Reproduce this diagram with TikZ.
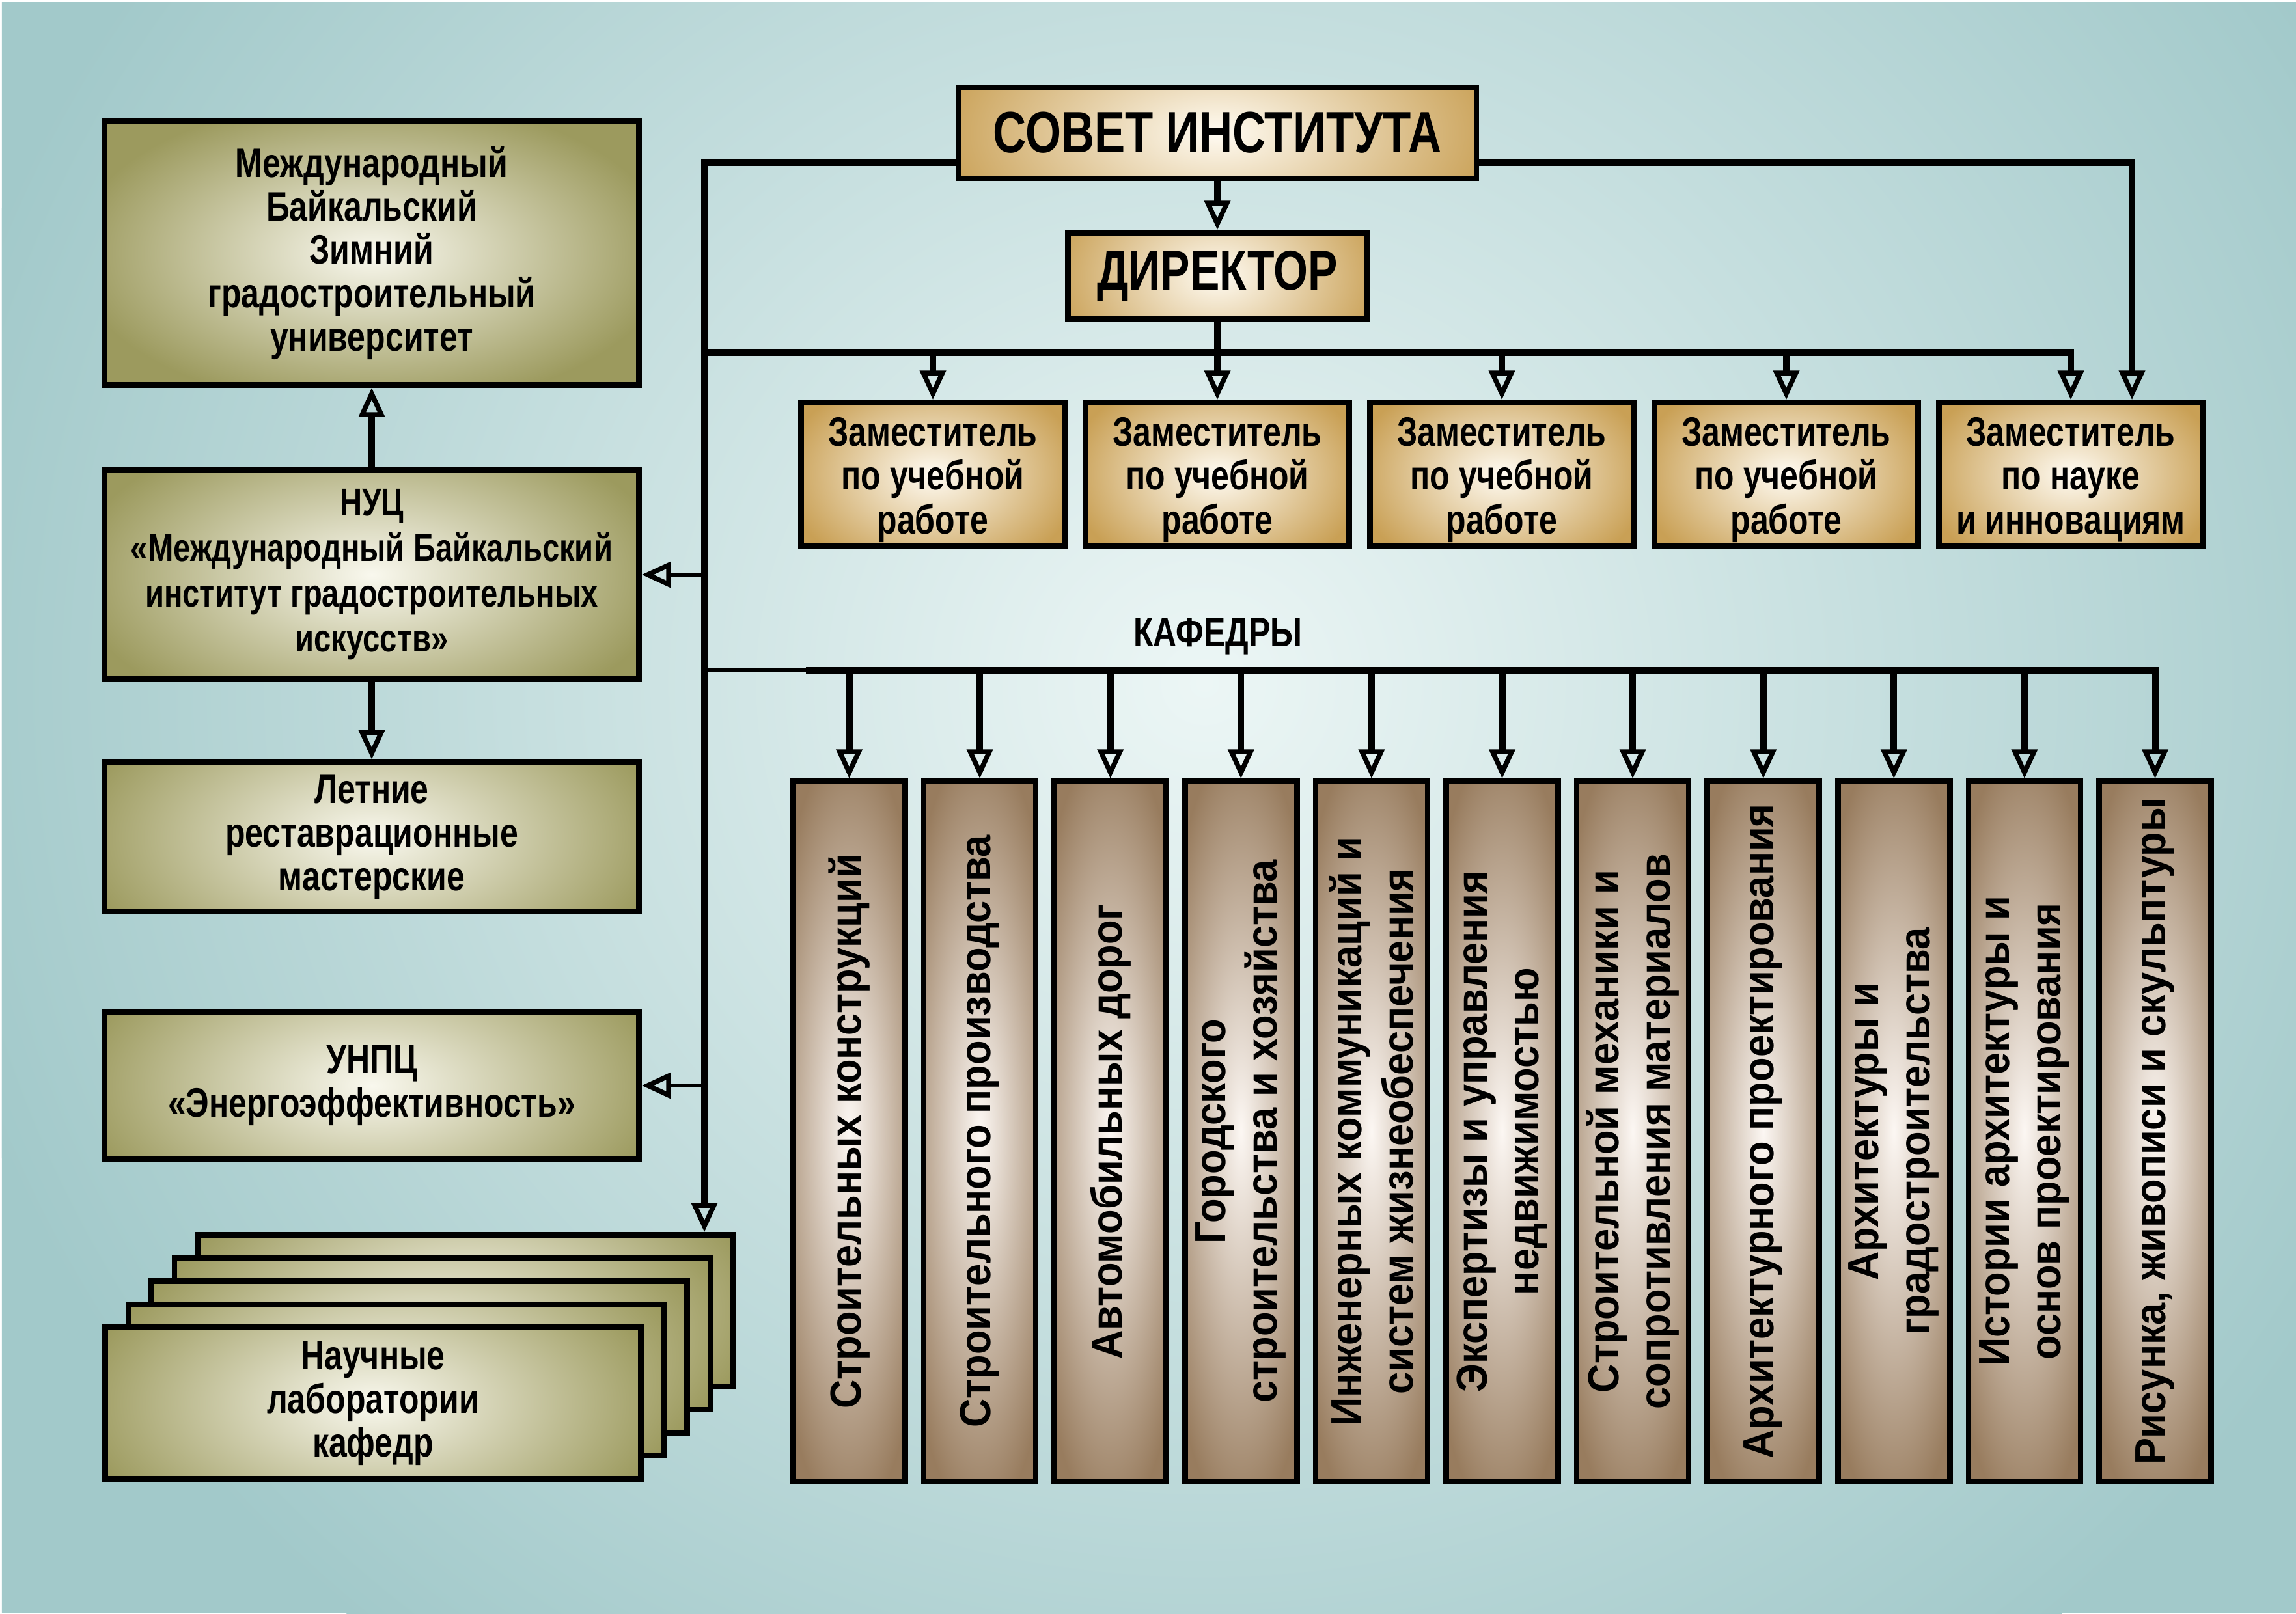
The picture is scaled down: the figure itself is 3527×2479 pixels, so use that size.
\documentclass[tikz,border=0pt]{standalone}
\usepackage{fontspec}
\setmainfont{Liberation Sans}
\newfontfamily\narrowfont{Liberation Sans}[FakeStretch=0.79]
\newfontfamily\deptfont{Liberation Sans}[FakeStretch=0.92]
\usetikzlibrary{arrows.meta}

\definecolor{bgout}{RGB}{162,201,202}
\definecolor{bgin}{RGB}{236,246,245}
\definecolor{goldout}{RGB}{201,160,85}
\definecolor{goldin}{RGB}{255,251,242}
\definecolor{oliveout}{RGB}{156,154,94}
\definecolor{olivein}{RGB}{249,248,238}
\definecolor{brownout}{RGB}{152,124,94}
\definecolor{brownin}{RGB}{252,247,243}

\tikzset{
  box/.style={draw, line width=0.85mm, inner sep=0pt, align=center},
  glow/.style n args={4}{fill=#1, path picture={\shade[inner color=#2, outer color=#1]
      (path picture bounding box.center) ellipse (#3 and #4);}},
  goldbox/.style 2 args={box, glow={goldout}{goldin}{#1}{#2},
      font=\narrowfont\bfseries\fontsize{18}{19.2}\selectfont},
  olivebox/.style={box, glow={oliveout}{olivein}{46mm}{24mm},
      minimum width=82.1mm, font=\narrowfont\bfseries\fontsize{18}{19}\selectfont},
  deptbox/.style={box, rotate=90, glow={brownout}{brownin}{60mm}{13mm},
      minimum width=107.6mm, minimum height=17.2mm,
      font=\deptfont\bfseries\fontsize{19}{22.5}\selectfont},
  bus/.style={line width=1mm},
  branch/.style={line width=0.55mm},
  arr/.style={-{Triangle[open, length=4.5mm, width=3.9mm, line width=0.75mm]}}
}

\begin{document}
\begin{tikzpicture}[x=0.1mm, y=-0.1mm]
    \useasboundingbox (0,0) rectangle (3527,2479);
    \fill[white] (0,0) rectangle (3527,2479);
    \begin{scope}
        \clip (3,3) rectangle (3527,2479);
        \fill[bgout] (0,0) rectangle (3527,2479);
        \shade[inner color=bgin, outer color=bgout] (1850,1050) ellipse (200mm and 190mm);
    \end{scope}

    \node[goldbox={44mm}{22mm}, minimum width=79.6mm, minimum height=14mm,
          font=\narrowfont\bfseries\fontsize{25.5}{27}\selectfont] (sovet) at (1870,204) {СОВЕТ ИНСТИТУТА};
    \node[goldbox={26mm}{18mm}, minimum width=45.9mm, minimum height=13.3mm,
          font=\narrowfont\bfseries\fontsize{24.5}{26}\selectfont] (direktor) at (1870,424) {ДИРЕКТОР};

    \foreach \txt [count=\i] in {{Заместитель\\по учебной\\работе}, {Заместитель\\по учебной\\работе},
        {Заместитель\\по учебной\\работе}, {Заместитель\\по учебной\\работе},
        {Заместитель\\по науке\\и инновациям}}
        \node[goldbox={23mm}{16mm}, minimum width=40.5mm, minimum height=22.1mm]
            (dep\i) at ({1433+437*(\i-1)},729)
            {\raisebox{-0.8mm}[\height][\depth]{\parbox{40mm}{\centering\txt}}};

    \node[olivebox, minimum height=40.5mm] (mbzgu) at (571,389)
        {Международный\\Байкальский\\Зимний\\градостроительный\\университет};
    \node[olivebox, minimum height=32.1mm, font=\narrowfont\bfseries\fontsize{17}{19.8}\selectfont] (nuc) at (571,883)
        {НУЦ\\«Международный Байкальский\\институт градостроительных\\искусств»};
    \node[olivebox, minimum height=23mm] (letnie) at (571,1286)
        {Летние\\реставрационные\\мастерские};
    \node[olivebox, minimum height=22.7mm] (unpc) at (571,1668)
        {УНПЦ\\«Энергоэффективность»};

    \foreach \i in {4,3,2,1}
        \node[olivebox, minimum width=82.3mm, minimum height=23.3mm] (lab\i) at ({573+35.5*\i},{2156-35.5*\i}) {};
    \node[olivebox, minimum width=82.3mm, minimum height=23.3mm] (lab0) at (573,2156)
        {Научные\\лаборатории\\кафедр};

    \foreach \txt [count=\i] in {{Строительных конструкций}, {Строительного производства},
        {Автомобильных дорог}, {Городского\\строительства и хозяйства},
        {Инженерных коммуникаций и\\систем жизнеобеспечения}, {Экспертизы и управления\\недвижимостью},
        {Строительной механики и\\сопротивления материалов}, {Архитектурного проектирования},
        {Архитектуры и\\градостроительства}, {Истории архитектуры и\\основ проектирования},
        {Рисунка, живописи и скульптуры}}
        \node[deptbox] (dept\i) at ({1304.5+200.6*(\i-1)},1738.5) {\txt};

    \node[font=\narrowfont\bfseries\fontsize{18}{20}\selectfont] (kaf) at (1871,978) {КАФЕДРЫ};

    \coordinate (lt) at (1082,250);
    \coordinate (rt) at (3275,250);
    \coordinate (db) at (1082,542);
    \coordinate (kb) at (1082,1030);
    \coordinate (kt) at (1238,1030);

    \draw[bus, arr] (sovet.west |- lt) -- (lt) -- (lt |- lab4.north);
    \draw[bus, arr] (sovet.east |- rt) -- (rt) -- (rt |- dep5.north);
    \draw[bus, arr] (sovet.south) -- (direktor.north);
    \draw[bus] (direktor.south) -- (direktor.south |- db);
    \draw[bus, arr] (db) -- (db -| dep5.north) -- (dep5.north);
    \foreach \i in {1,...,4}
        \draw[bus, arr] (db -| dep\i.north) -- (dep\i.north);

    \draw[branch] (kb) -- (kt);
    \draw[bus, arr] (kt) -- (kt -| dept11.east) -- (dept11.east);
    \foreach \i in {1,...,10}
        \draw[bus, arr] (kb -| dept\i.east) -- (dept\i.east);

    \draw[branch, arr] (lt |- nuc.east) -- (nuc.east);
    \draw[branch, arr] (lt |- unpc.east) -- (unpc.east);
    \draw[bus, arr] (nuc.north) -- (mbzgu.south);
    \draw[bus, arr] (nuc.south) -- (letnie.north);
\end{tikzpicture}
\end{document}
